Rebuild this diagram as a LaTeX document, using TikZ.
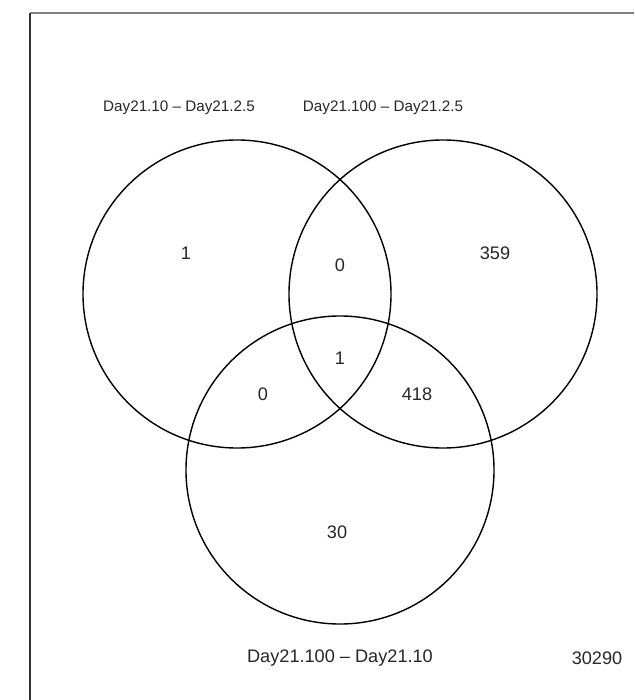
\documentclass[tikz,border=0pt]{standalone}
\usepackage{fontspec}
\setmainfont{Liberation Sans}
\usepackage{tikz}
\usetikzlibrary{positioning}

\begin{document}
\begin{tikzpicture}[
    x=0.03cm, y=-0.03cm,
    setcircle/.style={circle, draw=black, line width=1.2pt, minimum size=9.24cm, inner sep=0pt},
    setlabel/.style={font=\fontsize{13}{15}\selectfont, text=black!85},
    count/.style={font=\fontsize{15.5}{18}\selectfont, text=black!85}
]
    % Page frame and bounding box
    \useasboundingbox (0,0) rectangle (634,700);
    \coordinate (corner) at (30,13);
    \coordinate (topend) at (634,13);
    \coordinate (leftend) at (30,700);
    \draw[gray, line width=2.2pt] (corner) -- (topend);
    \draw[black!80, line width=1.6pt] (corner) -- (leftend);

    % The three sets
    \node[setcircle] (setA) at (237,294) {};
    \node[setcircle] (setB) at (443,294) {};
    \node[setcircle] (setC) at (340,470) {};

    % Set names
    \node[setlabel] (nameA) at (179,108) {Day21.10 -- Day21.2.5};
    \node[setlabel] (nameB) at (383,108) {Day21.100 -- Day21.2.5};
    \node[count] (nameC) at (340,658) {Day21.100 -- Day21.10};
    \node[count] (total) at (597,658) {30290};

    % Region counts
    \node[count] (onlyA) at (186,253) {1};
    \node[count] (onlyB) at (495,253) {359};
    \node[count] (onlyC) at (337,532) {30};
    \node[count] (AB) at (340,265) {0};
    \node[count] (AC) at (263,394) {0};
    \node[count] (BC) at (417,394) {418};
    \node[count] (ABC) at (340,358) {1};
\end{tikzpicture}
\end{document}
